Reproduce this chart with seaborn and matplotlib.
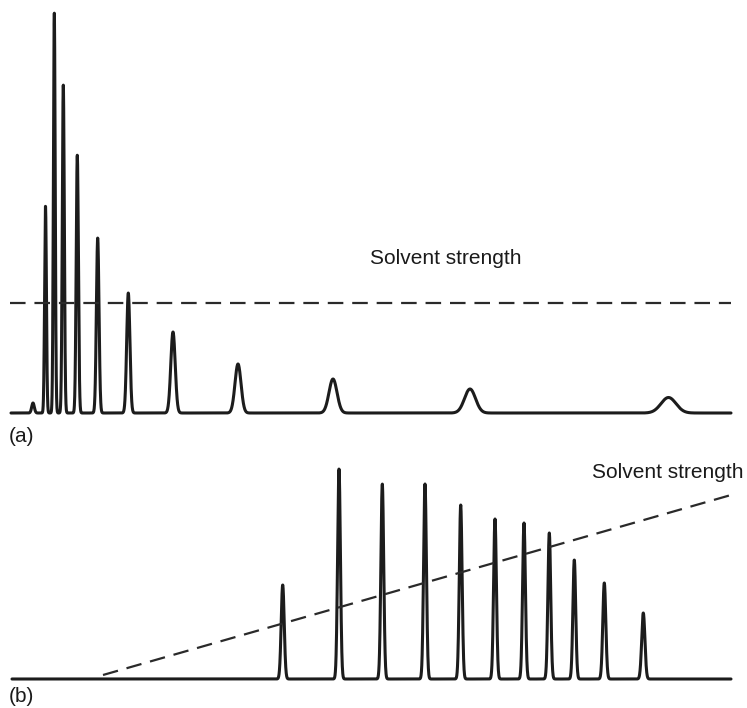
import numpy as np
import pandas as pd
import matplotlib
matplotlib.use("Agg")
import matplotlib.pyplot as plt
import seaborn as sns

sns.set_theme(style="white")
plt.rcParams['font.family'] = ['Liberation Sans', 'DejaVu Sans']

# ---- Panel (a): isocratic elution ----
a_times = [33, 45.5, 54.3, 63.3, 77.3, 97.7, 128.3, 173, 238, 333, 470, 668.5]
a_heights = [10, 207, 400, 328, 258, 175, 120, 81, 49, 34, 24, 15.5]
a_widths = [1.3, 0.9, 0.9, 1.0, 1.1, 1.3, 1.6, 2.2, 3.0, 4.0, 5.5, 7.5]
a_solvent_x = [10, 731]
a_solvent_y = [110, 110]

# ---- Panel (b): gradient elution ----
b_times = [282.7, 339, 382.3, 425, 460.7, 495, 524, 549.3, 574.3, 604.3, 643.3]
b_heights = [94, 210, 195, 195, 174, 160, 156, 146, 119, 96, 66]
b_widths = [1.5, 1.4, 1.4, 1.4, 1.4, 1.4, 1.4, 1.4, 1.4, 1.5, 1.6]
b_solvent_x = [103, 731]
b_solvent_y = [4, 184]

labels = ["(a)", "(b)"]
solvent_label = "Solvent strength"


def trace(t0, t1, times, heights, widths):
    t = np.linspace(t0, t1, 6000)
    s = np.zeros_like(t)
    for c, h, w in zip(times, heights, widths):
        s += h * np.exp(-0.5 * ((t - c) / w) ** 2)
    return pd.DataFrame({"time": t, "signal": s})


W, H = 747, 708
fig = plt.figure(figsize=(W / 100, H / 100), dpi=100)

ax_a = fig.add_axes([0, (H - 430) / H, 1, 430 / H])
ax_b = fig.add_axes([0, 8 / H, 1, 260 / H])

line_color = "#1c1c1c"

df_a = trace(11, 731, a_times, a_heights, a_widths)
sns.lineplot(data=df_a, x="time", y="signal", ax=ax_a, color=line_color,
             lw=2.2, estimator=None, sort=False)
sns.lineplot(x=a_solvent_x, y=a_solvent_y, ax=ax_a, color="#2a2a2a", lw=1.6,
             estimator=None)
ax_a.lines[-1].set_dashes((7.0, 4.0))

df_b = trace(12, 731, b_times, b_heights, b_widths)
sns.lineplot(data=df_b, x="time", y="signal", ax=ax_b, color=line_color,
             lw=2.2, estimator=None, sort=False)
sns.lineplot(x=b_solvent_x, y=b_solvent_y, ax=ax_b, color="#2a2a2a", lw=1.6,
             estimator=None)
ax_b.lines[-1].set_dashes((7.0, 4.0))

ax_a.set_xlim(0, W)
ax_a.set_ylim(-17, 413)
ax_b.set_xlim(0, W)
ax_b.set_ylim(-21, 239)
for ax in (ax_a, ax_b):
    ax.axis("off")


def ftext(x, y, s):
    fig.text(x / W, 1 - y / H, s, ha="left", va="center", fontsize=15,
             color="#1a1a1a")


ftext(370, 259, solvent_label)
ftext(592, 472, solvent_label)
ftext(9, 436, labels[0])
ftext(9, 696, labels[1])

fig.savefig("out.png", dpi=100, facecolor="white")
